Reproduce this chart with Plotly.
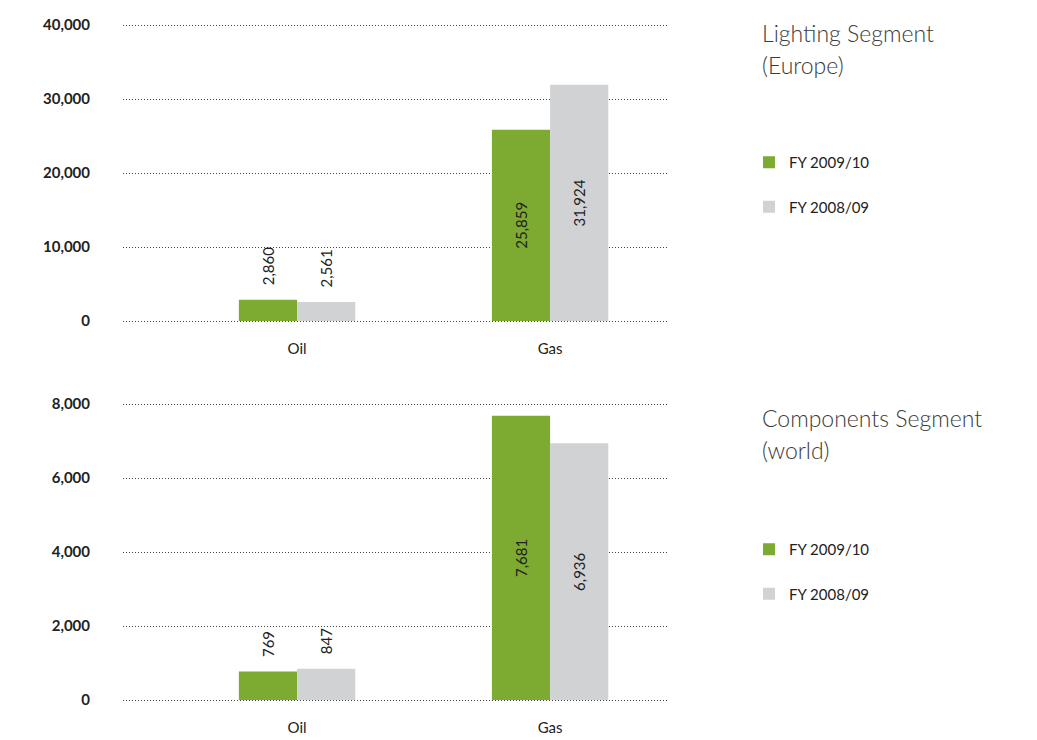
import plotly.graph_objects as go

# Sales volumes by product type, two reporting segments
categories = ["Oil", "Gas"]
series_names = ["FY 2009/10", "FY 2008/09"]

lighting_fy2010 = [2860, 25859]
lighting_fy2009 = [2561, 31924]

components_fy2010 = [769, 7681]
components_fy2009 = [847, 6936]

lighting_ticks = [0, 10000, 20000, 30000, 40000]
components_ticks = [0, 2000, 4000, 6000, 8000]

GREEN = "#7DAA30"
GREY = "#D1D2D4"
TEXT = "#222222"
FONT = "Lato"

W, H = 1037, 740
PAD = 2  # pixels of headroom so the end gridlines are drawn inside the plot


def px_x(p):
    return p / W


def px_y(p):
    return (H - p) / H


fig = go.Figure()

# text positions per category: small bars get their label above the bar
positions = ["outside", "inside"]
LEAD = "\u00a0\u00a0\u00a0"


def add_bars(values, name, color, xaxis, yaxis, legend):
    labels = [(LEAD if pos == "outside" else "") + f"{v:,}"
              for v, pos in zip(values, positions)]
    fig.add_trace(go.Bar(
        x=categories,
        y=values,
        name=name,
        marker=dict(color=color, line=dict(width=0)),
        text=labels,
        textposition=positions,
        textangle=-90,
        insidetextanchor="middle",
        constraintext="none",
        cliponaxis=False,
        textfont=dict(family=FONT, size=15, color=TEXT),
        hovertemplate="%{x}: %{y:,}<extra>" + name + "</extra>",
        xaxis=xaxis,
        yaxis=yaxis,
        legend=legend,
        legendgroup=f"{legend}-{name}",
    ))


add_bars(lighting_fy2010, series_names[0], GREEN, "x", "y", "legend")
add_bars(lighting_fy2009, series_names[1], GREY, "x", "y", "legend")
add_bars(components_fy2010, series_names[0], GREEN, "x2", "y2", "legend2")
add_bars(components_fy2009, series_names[1], GREY, "x2", "y2", "legend2")

x_domain = [px_x(123), px_x(667)]
x_range = [-0.688, 1.462]


def y_layout(top_px, bottom_px, vmax):
    """Domain and range padded by PAD pixels on both ends."""
    span = bottom_px - top_px
    per_px = vmax / span
    return dict(
        domain=[px_y(bottom_px + PAD), px_y(top_px - PAD)],
        range=[-PAD * per_px, vmax + PAD * per_px],
    )


xaxis_common = dict(
    type="category",
    categoryorder="array",
    categoryarray=categories,
    range=x_range,
    domain=x_domain,
    showgrid=False,
    showline=False,
    zeroline=False,
    ticks="",
    ticklabelstandoff=15,
    tickfont=dict(family=FONT, size=15, color=TEXT),
    automargin=False,
    fixedrange=True,
)

yaxis_common = dict(
    showgrid=True,
    gridcolor="#444444",
    gridwidth=1,
    griddash="1px,2px",
    showline=False,
    zeroline=False,
    ticks="",
    tickformat=",",
    ticklabelstandoff=32,
    tickfont=dict(family=FONT, size=15, color=TEXT, weight="bold"),
    automargin=False,
    fixedrange=True,
)

legend_common = dict(
    font=dict(family=FONT, size=15, color=TEXT),
    bgcolor="rgba(0,0,0,0)",
    borderwidth=0,
    traceorder="grouped",
    tracegroupgap=22,
    xanchor="left",
    yanchor="top",
)

fig.update_layout(
    width=W,
    height=H,
    margin=dict(l=0, r=0, t=0, b=0),
    paper_bgcolor="white",
    plot_bgcolor="white",
    barmode="group",
    bargap=0.54,
    bargroupgap=0,
    font=dict(family=FONT, color=TEXT),
    xaxis=dict(**xaxis_common, anchor="y"),
    yaxis=dict(**yaxis_common, **y_layout(25, 321, 40000),
               tickvals=lighting_ticks, anchor="x"),
    xaxis2=dict(**xaxis_common, anchor="y2"),
    yaxis2=dict(**yaxis_common, **y_layout(404, 700, 8000),
                tickvals=components_ticks, anchor="x2"),
    legend=dict(**legend_common, x=px_x(749), y=px_y(146)),
    legend2=dict(**legend_common, x=px_x(749), y=px_y(533)),
    showlegend=True,
)

title_font = dict(family=FONT, size=23, color="#3A3A3A", weight=300)
for lines, first_center in [(["Lighting Segment", "(Europe)"], 33),
                            (["Components Segment", "(world)"], 418)]:
    for i, line in enumerate(lines):
        fig.add_annotation(
            text=line, xref="paper", yref="paper",
            x=px_x(760), y=px_y(first_center + 32 * i),
            xanchor="left", yanchor="middle",
            align="left", showarrow=False, font=title_font,
        )

fig.write_html("out.html")
